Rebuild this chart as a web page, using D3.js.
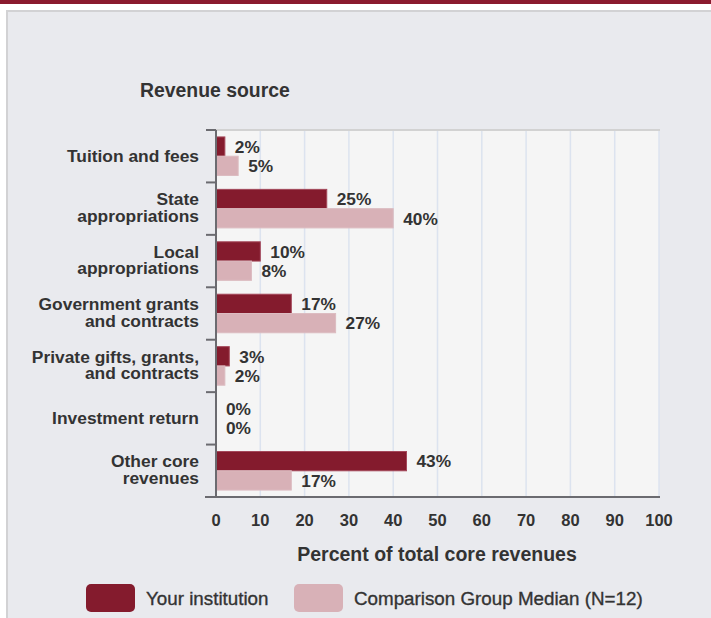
<!DOCTYPE html>
<html>
<head>
<meta charset="utf-8">
<script src="https://cdn.jsdelivr.net/npm/d3@7"></script>
<style>
  body { margin: 0; background: #fff; }
  text { font-family: "Liberation Sans", Arial, sans-serif; fill: #333; font-weight: bold; }
  .legend text { font-weight: normal; stroke: #333; stroke-width: 0.35px; }
</style>
</head>
<body>
<div id="chart"></div>
<script>
// data
const categories = [
    "Tuition and fees",
    "State\nappropriations",
    "Local\nappropriations",
    "Government grants\nand contracts",
    "Private gifts, grants,\nand contracts",
    "Investment return",
    "Other core\nrevenues"
];
const institution = [2, 25, 10, 17, 3, 0, 43];
const comparison = [5, 40, 8, 27, 2, 0, 17];
const seriesNames = ["Your institution", "Comparison Group Median (N=12)"];
const xTicks = [0, 10, 20, 30, 40, 50, 60, 70, 80, 90, 100];

const colors = ["#841b2d", "#d8b1b7"];

// 1: SVG + frame
const W = 711, H = 618;
const plot = { left: 216, right: 659, top: 130, bottom: 497 };

const svg = d3.select("#chart")
    .append("svg")
    .attr("width", W)
    .attr("height", H);

svg.append("rect")
    .attr("x", 0).attr("y", 0)
    .attr("width", W).attr("height", 4)
    .attr("fill", "#8a1a2e");

svg.append("rect")
    .attr("x", 7).attr("y", 11)
    .attr("width", W + 10).attr("height", H)
    .attr("fill", "#e9eaee")
    .attr("stroke", "#d2d2d4")
    .attr("stroke-width", 2);

// 2: scales
const x = d3.scaleLinear()
    .domain([0, 100])
    .range([plot.left, plot.right]);

const y = d3.scaleBand()
    .domain(categories)
    .range([plot.top, plot.bottom])
    .padding(0);

const ySub = d3.scaleBand()
    .domain([0, 1])
    .range([0, y.bandwidth()])
    .paddingInner(0)
    .paddingOuter(0.36);

// 3: plot background + grid
svg.append("rect")
    .attr("x", plot.left).attr("y", plot.top)
    .attr("width", plot.right - plot.left)
    .attr("height", plot.bottom - plot.top)
    .attr("fill", "#f5f5f5");

svg.append("g")
    .selectAll("line")
    .data(xTicks.slice(1))
    .join("line")
    .attr("x1", d => x(d)).attr("x2", d => x(d))
    .attr("y1", plot.top).attr("y2", plot.bottom)
    .attr("stroke", "#dce3ef")
    .attr("stroke-width", 1.5);

svg.append("line")
    .attr("x1", plot.left - 10).attr("x2", plot.right + 1)
    .attr("y1", plot.top).attr("y2", plot.top)
    .attr("stroke", "#d2d2d2")
    .attr("stroke-width", 2);

// 4: bars
const rows = categories.map((c, i) => ({ cat: c, vals: [institution[i], comparison[i]] }));

const groups = svg.append("g")
    .selectAll("g")
    .data(rows)
    .join("g")
    .attr("transform", d => `translate(0,${y(d.cat)})`);

groups.selectAll("rect")
    .data(d => d.vals.map((v, k) => ({ v, k })))
    .join("rect")
    .filter(d => d.v > 0)
    .attr("x", x(0))
    .attr("y", d => ySub(d.k))
    .attr("width", d => x(d.v) - x(0))
    .attr("height", ySub.bandwidth())
    .attr("fill", d => colors[d.k])
    .attr("stroke", d => d.k === 0 ? "#a4485a" : "#dcbcc1")
    .attr("stroke-width", 1);

groups.selectAll("text")
    .data(d => d.vals.map((v, k) => ({ v, k })))
    .join("text")
    .attr("x", d => x(d.v) + 10)
    .attr("y", d => ySub(d.k) + ySub.bandwidth() / 2)
    .attr("dy", "0.36em")
    .style("font-size", "17.3px")
    .text(d => d.v + "%");

// 5: axes
svg.append("line")
    .attr("x1", plot.left).attr("x2", plot.left)
    .attr("y1", plot.top).attr("y2", plot.bottom)
    .attr("stroke", "#6b6b70")
    .attr("stroke-width", 2);

svg.append("line")
    .attr("x1", plot.left - 11).attr("x2", plot.right + 1)
    .attr("y1", plot.bottom).attr("y2", plot.bottom)
    .attr("stroke", "#6b6b70")
    .attr("stroke-width", 2);

// category separator ticks
const bounds = categories.map(c => y(c)).concat([plot.bottom]);
svg.append("g")
    .selectAll("line")
    .data(bounds)
    .join("line")
    .attr("x1", plot.left - 10).attr("x2", plot.left)
    .attr("y1", d => d).attr("y2", d => d)
    .attr("stroke", "#6b6b70")
    .attr("stroke-width", 2);

// x tick labels
svg.append("g")
    .selectAll("text")
    .data(xTicks)
    .join("text")
    .attr("x", d => x(d))
    .attr("y", 526)
    .attr("text-anchor", "middle")
    .style("font-size", "16.5px")
    .text(d => d);

// category labels
const lh = 16.7;
const catLabels = svg.append("g")
    .selectAll("text")
    .data(categories)
    .join("text")
    .attr("text-anchor", "end")
    .style("font-size", "17.4px")
    .attr("transform", d => {
        const n = d.split("\n").length;
        const base = y(d) + y.bandwidth() / 2 + 6 - (n - 1) * lh / 2 - (n - 1);
        return `translate(199,${base})`;
    });

catLabels.selectAll("tspan")
    .data(d => d.split("\n"))
    .join("tspan")
    .attr("x", 0)
    .attr("y", (d, i) => i * lh)
    .text(d => d);

// 6: titles
svg.append("text")
    .attr("x", 140)
    .attr("y", 97)
    .style("font-size", "19.4px")
    .text("Revenue source");

svg.append("text")
    .attr("x", 437)
    .attr("y", 561)
    .attr("text-anchor", "middle")
    .style("font-size", "19.5px")
    .text("Percent of total core revenues");

// 7: legend
const legendX = [86, 294];
const legend = svg.append("g")
    .attr("class", "legend")
    .selectAll("g")
    .data(seriesNames)
    .join("g")
    .attr("transform", (d, i) => `translate(${legendX[i]},584)`);

legend.append("rect")
    .attr("width", 49)
    .attr("height", 28)
    .attr("rx", 5)
    .attr("fill", (d, i) => colors[i]);

legend.append("text")
    .attr("x", 60)
    .attr("y", 14)
    .attr("dy", "0.36em")
    .style("font-size", "18.8px")
    .text(d => d);
</script>
</body>
</html>
